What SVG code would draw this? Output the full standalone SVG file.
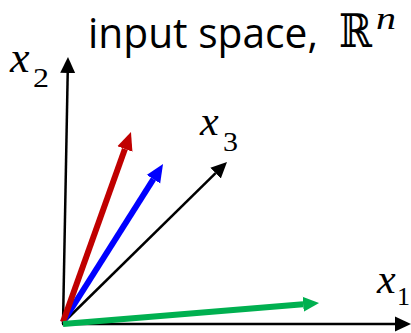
<svg xmlns="http://www.w3.org/2000/svg" width="411" height="333" viewBox="0 0 411 333">
<style>
.ax{stroke:#000;stroke-width:2.5;fill:none}
.v{stroke-width:6;fill:none;stroke-linecap:butt}
.lbl{font-family:"Liberation Serif","DejaVu Serif",serif;font-style:italic;fill:#000}
.sub{font-family:"Liberation Serif","DejaVu Serif",serif;fill:#000}
.title{font-family:"Open Sans","Noto Sans",sans-serif;fill:#000}
</style>
<defs>
<marker id="hk" markerUnits="userSpaceOnUse" viewBox="0 -8 16 16" refX="0" refY="0" markerWidth="16" markerHeight="16" orient="auto"><path d="M0,-7.5 L16,0 L0,7.5 z" fill="#000"/></marker>
<marker id="hr" markerUnits="userSpaceOnUse" viewBox="0 -9 18 18" refX="0" refY="0" markerWidth="18" markerHeight="18" orient="auto"><path d="M0,-8 L18,0 L0,8 z" fill="#C00000"/></marker>
<marker id="hb" markerUnits="userSpaceOnUse" viewBox="0 -9 18 18" refX="0" refY="0" markerWidth="18" markerHeight="18" orient="auto"><path d="M0,-8 L18,0 L0,8 z" fill="#0000FF"/></marker>
<marker id="hg" markerUnits="userSpaceOnUse" viewBox="0 -9 16 18" refX="0" refY="0" markerWidth="16" markerHeight="18" orient="auto"><path d="M0,-7.5 L16,0 L0,7.5 z" fill="#00B050"/></marker>
</defs>
<g id="title"><text class="title" x="88" y="48" font-size="42" textLength="230" lengthAdjust="spacingAndGlyphs">input space,</text><text class="sub" x="339" y="47" font-size="46" font-family="DejaVu Serif" textLength="33" lengthAdjust="spacingAndGlyphs">ℝ</text><text class="lbl" x="376" y="29" font-size="32" textLength="20" lengthAdjust="spacingAndGlyphs">n</text></g>
<g id="labels">
<g id="x2-label"><text class="lbl" x="10" y="72" font-size="44">x</text><text class="sub" x="33" y="87" font-size="27" textLength="16" lengthAdjust="spacingAndGlyphs">2</text></g>
<g id="x3-label"><text class="lbl" x="200" y="135" font-size="42">x</text><text class="sub" x="223" y="151" font-size="27" textLength="15" lengthAdjust="spacingAndGlyphs">3</text></g>
<g id="x1-label"><text class="lbl" x="377" y="293" font-size="42">x</text><text class="sub" x="397" y="305" font-size="26">1</text></g>
</g>
<g id="connectors">
<path id="x2-axis" class="ax" d="M63,324 L67.7,73" marker-end="url(#hk)"/>
<path id="x1-axis" class="ax" d="M62,324 L395,324" marker-end="url(#hk)"/>
<path id="x3-axis" class="ax" d="M63,323 L215.6,173.2" marker-end="url(#hk)"/>
<path id="blue-vec" class="v" stroke="#0000FF" d="M63,322 L153.4,179.2" marker-end="url(#hb)"/>
<path id="red-vec" class="v" stroke="#C00000" d="M63,322 L124.9,149" marker-end="url(#hr)"/>
<path id="green-vec" class="v" stroke="#00B050" stroke-width="5" d="M63,324 L303.1,304.3" marker-end="url(#hg)"/>
</g>
</svg>
